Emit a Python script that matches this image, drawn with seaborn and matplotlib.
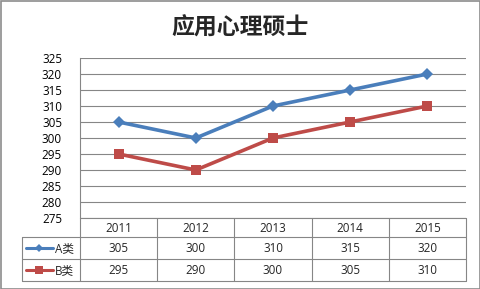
import matplotlib
matplotlib.use("Agg")
import matplotlib.pyplot as plt
import seaborn as sns
import pandas as pd
from matplotlib.lines import Line2D
from matplotlib.patches import Rectangle

years = ["2011", "2012", "2013", "2014", "2015"]
series_a = [305, 300, 310, 315, 320]
series_b = [295, 290, 300, 305, 310]
series_names = ["A类", "B类"]
title = "应用心理硕士"
y_ticks = list(range(275, 326, 5))

sns.set_theme(style="white")
plt.rcParams['font.family'] = ['Open Sans', 'Noto Sans CJK SC', 'DejaVu Sans']

W, H = 481, 289
fig = plt.figure(figsize=(W / 100, H / 100), dpi=100)
fig.patch.set_facecolor("white")

x0, x1, ytop, ybot = 80, 466, 58, 218
ax = fig.add_axes([x0 / W, 1 - ybot / H, (x1 - x0) / W, (ybot - ytop) / H])

df = pd.DataFrame({
    "year": list(range(len(years))) * 2,
    "value": series_a + series_b,
    "series": [series_names[0]] * len(years) + [series_names[1]] * len(years),
})
colors = {series_names[0]: "#4A7EBB", series_names[1]: "#BE4B48"}
markers = {series_names[0]: "D", series_names[1]: "s"}
sns.lineplot(data=df, x="year", y="value", hue="series", style="series",
             markers=markers, dashes=False, palette=colors, linewidth=2.6,
             markersize=6.5, markeredgewidth=0, ax=ax, legend=False)

ax.set_xlim(-0.5, len(years) - 0.5)
ax.set_ylim(275, 325)
ax.set_yticks(y_ticks)
ax.set_yticklabels([str(t) for t in y_ticks], fontsize=8.4, color="black")
ax.tick_params(axis="y", length=0, pad=13)
ax.set_xticks([])
ax.set_xlabel("")
ax.set_ylabel("")
ax.grid(axis="y", color="#868686", linewidth=0.8)
for s in ["top", "right", "bottom"]:
    ax.spines[s].set_visible(False)
ax.spines["left"].set_color("#868686")
ax.spines["left"].set_linewidth(0.8)
ax.set_axisbelow(True)

# Overlay in pixel coordinates for the data table
ov = fig.add_axes([0, 0, 1, 1], facecolor="none")
ov.set_xlim(0, W)
ov.set_ylim(H, 0)
ov.axis("off")

lc = "#868686"
row_y = [218, 237, 259, 281]
left = 22
colw = (x1 - x0) / len(years)
col_x = [x0 + i * colw for i in range(len(years) + 1)]
ov.plot([x0, x1], [row_y[0], row_y[0]], color=lc, lw=0.8)
for r in row_y[1:]:
    ov.plot([left, x1], [r, r], color=lc, lw=0.8)
for cx in col_x:
    ov.plot([cx, cx], [row_y[0], row_y[3]], color=lc, lw=0.8)
ov.plot([left, left], [row_y[1], row_y[3]], color=lc, lw=0.8)

for i, yr in enumerate(years):
    cx = x0 + (i + 0.5) * colw
    ov.text(cx, (row_y[0] + row_y[1]) / 2 + 0.5, yr, ha="center", va="center", fontsize=8.4)
    ov.text(cx, (row_y[1] + row_y[2]) / 2 + 0.5, str(series_a[i]), ha="center", va="center", fontsize=8.4)
    ov.text(cx, (row_y[2] + row_y[3]) / 2 + 0.5, str(series_b[i]), ha="center", va="center", fontsize=8.4)

for k, name in enumerate(series_names):
    yc = (row_y[k + 1] + row_y[k + 2]) / 2
    ov.add_line(Line2D([26, 53], [yc, yc], color=colors[name], lw=2.2))
    ov.plot([39.5], [yc], marker=markers[name], color=colors[name],
            markersize=4.5 if k == 0 else 6, markeredgewidth=0)
    ov.text(55, yc + 0.5, name, ha="left", va="center", fontsize=8.4,
            family=['Open Sans', 'Noto Sans CJK SC', 'DejaVu Sans'])

ov.text(240, 28, title, ha="center", va="center", fontsize=16.5, fontweight="bold",
        family=['Noto Sans CJK SC', 'DejaVu Sans'])

ov.add_patch(Rectangle((0.5, 0.5), W - 1, H - 1, fill=False, edgecolor="#8c8c8c", lw=1.2))

fig.savefig("out.png", dpi=100, facecolor="white")
